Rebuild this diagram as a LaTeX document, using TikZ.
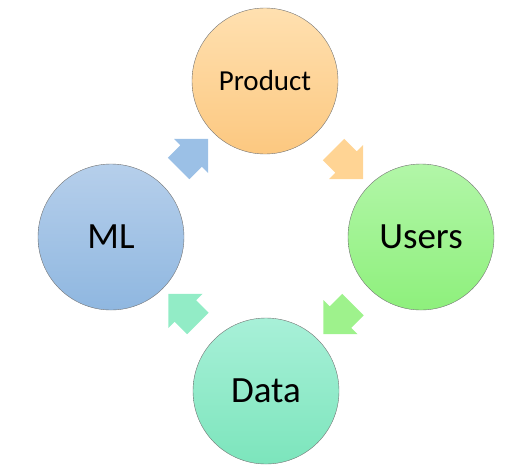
\documentclass[tikz,border=0pt]{standalone}
\usepackage{fontspec}
\setmainfont{Carlito}
\usetikzlibrary{shapes.arrows,calc}

\definecolor{prodtop}{RGB}{255,224,176}
\definecolor{prodbot}{RGB}{252,200,128}
\definecolor{usertop}{RGB}{178,246,168}
\definecolor{userbot}{RGB}{142,240,124}
\definecolor{mltop}{RGB}{182,207,235}
\definecolor{mlbot}{RGB}{143,183,224}
\definecolor{datatop}{RGB}{168,240,216}
\definecolor{databot}{RGB}{124,229,188}
\definecolor{arrblue}{RGB}{155,192,230}
\definecolor{arrorange}{RGB}{255,212,148}
\definecolor{arrgreen}{RGB}{158,242,140}
\definecolor{arrteal}{RGB}{146,236,198}

\begin{document}
\begin{tikzpicture}[x=1pt,y=-1pt,
    stage/.style={circle,draw=black!55,line width=0.4pt,minimum size=146pt,inner sep=0pt},
    bigtext/.style={font=\fontsize{37}{40}\selectfont},
    turn/.style={single arrow,minimum height=42pt,inner xsep=0pt,inner ysep=15pt,
        single arrow head extend=9pt,single arrow tip angle=90,draw=none}]

\useasboundingbox (0,0) rectangle (526,474);

% the four stages of the loop
\node[stage,top color=prodtop,bottom color=prodbot,font=\fontsize{29}{32}\selectfont] (product) at (265,81) {Product};
\node[stage,bigtext,top color=usertop,bottom color=userbot] (users) at (421,237) {Users};
\node[stage,bigtext,top color=datatop,bottom color=databot] (data) at (266,391) {Data};
\node[stage,bigtext,top color=mltop,bottom color=mlbot] (ml) at (111,237) {ML};

% block arrows half way between the stages
\node[turn,fill=arrblue,rotate=45] (mltoproduct) at ($(ml)!.5!(product)$) {};
\node[turn,fill=arrorange,rotate=-45] (producttousers) at ($(product)!.5!(users)$) {};
\node[turn,fill=arrgreen,rotate=-135] (userstodata) at ($(users)!.5!(data)$) {};
\node[turn,fill=arrteal,rotate=135] (datatoml) at ($(data)!.5!(ml)$) {};

\end{tikzpicture}
\end{document}
